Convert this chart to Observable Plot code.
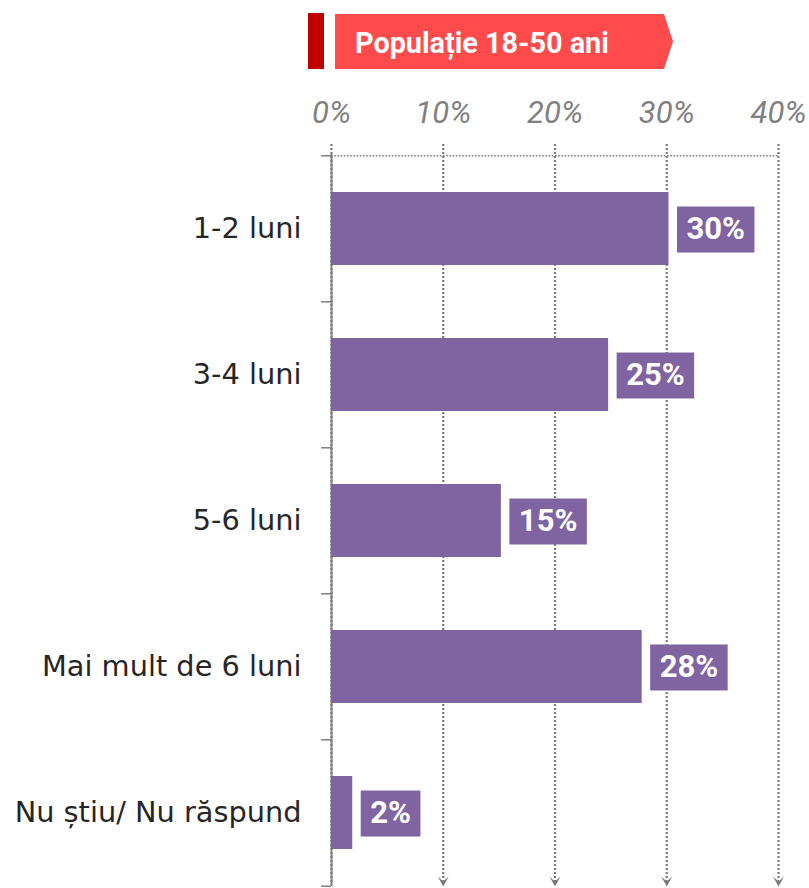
<!DOCTYPE html>
<html>
<head>
<meta charset="utf-8">
<script src="https://cdn.jsdelivr.net/npm/d3@7"></script>
<script src="https://cdn.jsdelivr.net/npm/@observablehq/plot@0.6"></script>
<style>
  body { margin: 0; background: #fff; }
  #wrap { position: relative; width: 809px; height: 888px; }
  #header { position: absolute; left: 0; top: 0; }
</style>
</head>
<body>
<div id="wrap">
  <div id="chart"></div>
  <svg id="header" width="809" height="80">
    <rect x="308" y="13" width="16" height="56" fill="#C00000"></rect>
    <path d="M335,14 H664 L673,41.5 L664,69 H335 Z" fill="#FF4B4B"></path>
    <text x="355" y="52.5" fill="#ffffff" font-family="Roboto" font-weight="bold" font-size="28.8">Populație 18-50 ani</text>
  </svg>
</div>
<script>
// ---- data ----
const categories = ["1-2 luni", "3-4 luni", "5-6 luni", "Mai mult de 6 luni", "Nu știu/ Nu răspund"];
const values = [30.2, 24.8, 15.2, 27.8, 1.9];
const valueLabels = ["30%", "25%", "15%", "28%", "2%"];
const xTicks = [0, 10, 20, 30, 40];

const data = categories.map((c, i) => ({category: c, value: values[i], label: valueLabels[i]}));

// ---- layout ----
const W = 809, H = 888, mt = 154, mb = 2, ml = 331, mr = 31;
const step = (H - mt - mb) / categories.length;
const purple = "#8064A2";
const gray = "#7a7a7a";

const chevron = {
  draw(ctx) {
    ctx.moveTo(-5.5, -10);
    ctx.lineTo(0, -5);
    ctx.lineTo(5.5, -10);
    ctx.lineTo(0, 0);
    ctx.closePath();
  }
};

const plot = Plot.plot({
  width: W,
  height: H,
  marginTop: mt,
  marginBottom: mb,
  marginLeft: ml,
  marginRight: mr,
  style: {background: "#fff", overflow: "visible"},
  x: {domain: [xTicks[0], xTicks[xTicks.length - 1]], label: null},
  y: {domain: categories, paddingInner: 0.5, paddingOuter: 0.25, label: null},
  marks: [
    // dotted vertical gridlines
    Plot.ruleX(xTicks, {stroke: gray, strokeWidth: 2.2, strokeDasharray: "2,2", insetTop: -10, insetBottom: 4}),
    // arrowheads at the bottom of gridlines
    Plot.dot(xTicks.slice(1), {x: d => d, frameAnchor: "bottom", symbol: chevron, fill: gray, stroke: "none"}),
    // dotted horizontal line at top
    Plot.ruleY([categories[0]], {x1: () => xTicks[0], x2: () => xTicks[xTicks.length - 1], dy: -step / 2, stroke: gray, strokeWidth: 1.6, strokeDasharray: "1.6,1.6"}),
    // solid y axis line
    Plot.ruleX([xTicks[0]], {stroke: "#808080", strokeWidth: 2}),
    // boundary ticks on y axis
    Plot.axisY(categories, {tickSize: 10, tickFormat: () => "", dy: -step / 2, stroke: "#808080", strokeWidth: 1.5}),
    Plot.axisY([categories[categories.length - 1]], {tickSize: 10, tickFormat: () => "", dy: step / 2, stroke: "#808080", strokeWidth: 1.5}),
    // category labels
    Plot.axisY({tickSize: 0, tickPadding: 30, fontSize: 28.8, fontFamily: "DejaVu Sans", fill: "#262626"}),
    // x tick labels on top
    Plot.axisX(xTicks, {anchor: "top", tickSize: 0, tickPadding: 32, tickFormat: d => d + "%", fontSize: 31, fontStyle: "italic", fontFamily: "Roboto", fill: "#808080"}),
    // bars
    Plot.barX(data, {x: "value", y: "category", fill: purple}),
    // value labels
    Plot.text(data, {x: "value", y: "category", text: "label", dx: 17.5, textAnchor: "start", fill: "#ffffff", fontSize: 31, fontWeight: "bold", fontFamily: "Roboto"})
  ]
});

document.getElementById("chart").append(plot);

// label boxes behind the value labels
const svgNS = "http://www.w3.org/2000/svg";
const labelSet = new Set(valueLabels);
plot.querySelectorAll("text").forEach(t => {
  const g = t.parentNode;
  if (!g || g.getAttribute("aria-label") !== "text") return;
  if (!labelSet.has(t.textContent)) return;
  const bb = t.getBBox();
  const r = document.createElementNS(svgNS, "rect");
  const tr = t.getAttribute("transform");
  if (tr) r.setAttribute("transform", tr);
  r.setAttribute("x", bb.x - 9.5);
  r.setAttribute("y", -22.5);
  r.setAttribute("width", bb.width + 19);
  r.setAttribute("height", 46);
  r.setAttribute("fill", purple);
  g.insertBefore(r, t);
});
</script>
</body>
</html>
